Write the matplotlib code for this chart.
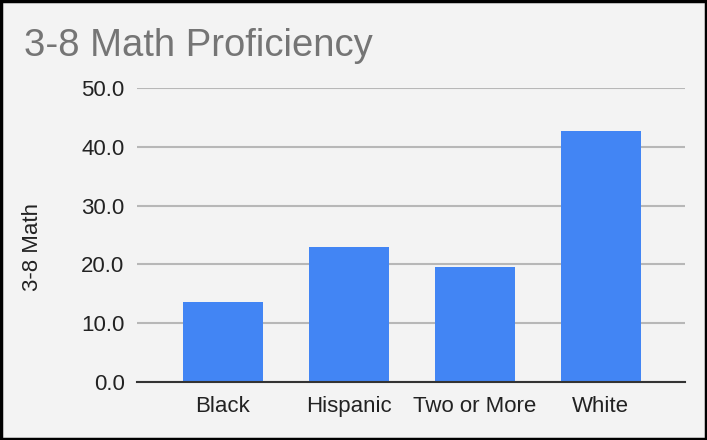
import matplotlib.pyplot as plt
import numpy as np

plt.rcParams['font.family'] = ['Liberation Sans', 'DejaVu Sans']

groups = ['Black', 'Hispanic', 'Two or More', 'White']
math_scores = [13.6, 23.0, 19.6, 42.7]
yticks = [0, 10, 20, 30, 40, 50]

bg = '#f3f3f3'
fig = plt.figure(figsize=(7.07, 4.4), dpi=100, facecolor=bg)
ax = fig.add_axes([0.1938, 0.1318, 0.775, 0.6682], facecolor=bg)

x = np.arange(len(groups))
ax.bar(x, math_scores, width=0.635, color='#4285f4', zorder=3)

ax.set_xlim(-0.68, 3.67)
ax.set_ylim(0, 50)
ax.set_yticks(yticks)
ax.set_yticklabels(['%.1f' % v for v in yticks])
ax.set_xticks(x)
ax.set_xticklabels(groups)
ax.tick_params(axis='both', length=0, labelsize=16, colors='#222222')
ax.tick_params(axis='y', pad=9)
ax.tick_params(axis='x', pad=10)

ax.grid(axis='y', color='#b7b7b7', linewidth=1.5, zorder=0)
for s in ['top', 'right', 'left']:
    ax.spines[s].set_visible(False)
ax.spines['bottom'].set_color('#333333')
ax.spines['bottom'].set_linewidth(1.5)
ax.spines['bottom'].set_zorder(4)

# y axis title
fig.text(33 / 707, 1 - 247 / 440, '3-8 Math', fontsize=16, color='#222222',
         rotation=90, ha='center', va='center')

fig.text(0.034, 0.896, '3-8 Math Proficiency', fontsize=27.5, color='#757575',
         ha='left', va='center')

# outer black frame
fig.patches.append(plt.Rectangle((0.0015, 0.002), 0.997, 0.996, transform=fig.transFigure,
                                 fill=False, edgecolor='black', linewidth=2.5))

fig.savefig('out.png', dpi=100, facecolor=bg)
